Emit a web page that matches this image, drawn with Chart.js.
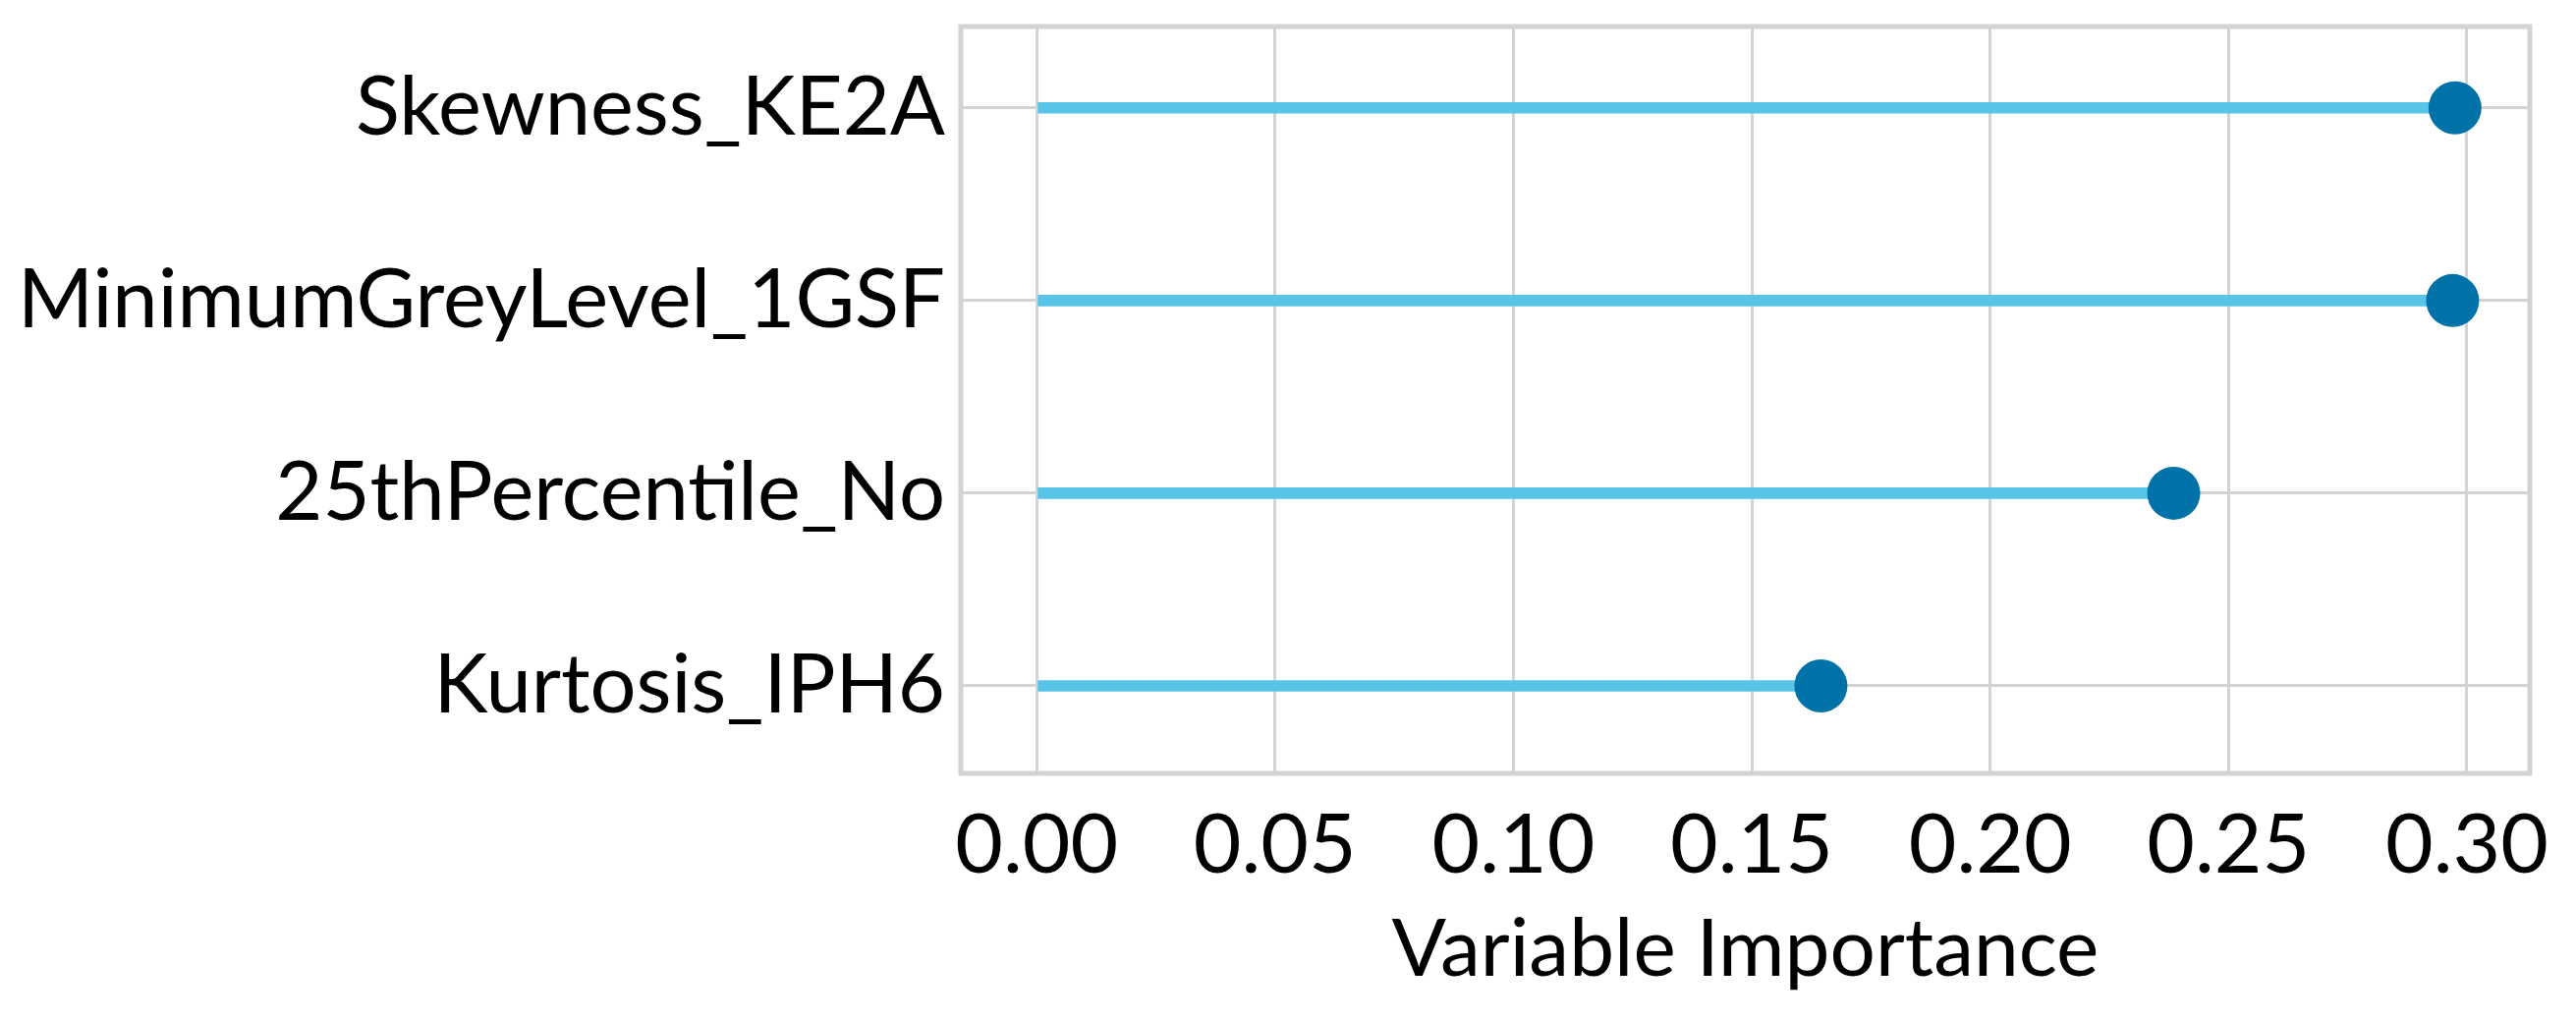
<!DOCTYPE html>
<html>
<head>
<meta charset="utf-8">
<script src="https://cdn.jsdelivr.net/npm/chart.js@4.4.1/dist/chart.umd.min.js"></script>
<style>
  html, body { margin: 0; padding: 0; background: #fff; }
  #wrap { width: 2622px; height: 1040px; }
</style>
</head>
<body>
<div id="wrap"><canvas id="importanceChart"></canvas></div>
<script>
// Variables, top to bottom
const featureNames = [
  "Skewness_KE2A",
  "MinimumGreyLevel_1GSF",
  "25thPercentile_No",
  "Kurtosis_IPH6",
];
const importance = [0.2975, 0.297, 0.2385, 0.1645];
const xTickValues = [0, 0.05, 0.1, 0.15, 0.2, 0.25, 0.3];

const frameColor = "#d3d3d3";

// frame round the plot area
const framePlugin = {
  id: "frame",
  afterDatasetsDraw(chart) {
    const { ctx, chartArea } = chart;
    ctx.save();
    ctx.strokeStyle = frameColor;
    ctx.lineWidth = 5;
    ctx.strokeRect(
      chartArea.left,
      chartArea.top,
      chartArea.right - chartArea.left,
      chartArea.bottom - chartArea.top
    );
    ctx.restore();
  },
};

document.addEventListener("DOMContentLoaded", function () {
  const ctx = document.getElementById("importanceChart").getContext("2d");

  const rows = featureNames.map((name, i) => i);

  new Chart(ctx, {
    type: "bar",
    data: {
      datasets: [
        {
          type: "bar",
          indexAxis: "y",
          order: 2,
          data: importance.map((v, i) => ({ x: v, y: i })),
          backgroundColor: "#58c5e8",
          barThickness: 11,
          borderWidth: 0,
        },
        {
          type: "scatter",
          order: 1,
          data: importance.map((v, i) => ({ x: v, y: i })),
          backgroundColor: "#0072a7",
          borderWidth: 0,
          pointRadius: 27,
        },
      ],
    },
    options: {
      responsive: true,
      maintainAspectRatio: false,
      animation: false,
      layout: { padding: { top: 25, right: 47, left: 0, bottom: 0 } },
      plugins: {
        legend: { display: false },
        tooltip: { enabled: false },
      },
      scales: {
        x: {
          type: "linear",
          offset: false,
          min: -0.0159,
          max: 0.3132,
          afterBuildTicks: (scale) => {
            scale.ticks = xTickValues.map((v) => ({ value: v }));
          },
          afterFit: (scale) => {
            scale.height = 253;
            scale.paddingLeft = 0;
            scale.paddingRight = 0;
          },
          grid: { offset: false, color: frameColor, lineWidth: 3, drawTicks: false },
          border: { display: false },
          ticks: {
            padding: 24,
            color: "#000",
            font: { family: "Lato", size: 84 },
            callback: (v) => Number(v).toFixed(2),
          },
          title: {
            display: true,
            text: "Variable Importance",
            color: "#000",
            font: { family: "Lato", size: 82, lineHeight: 1 },
            padding: { top: 0, bottom: 32 },
          },
        },
        y: {
          type: "linear",
          offset: false,
          reverse: true,
          min: -0.422,
          max: 3.454,
          afterBuildTicks: (scale) => {
            scale.ticks = rows.map((i) => ({ value: i }));
          },
          afterFit: (scale) => {
            scale.width = 978;
            scale.paddingTop = 0;
            scale.paddingBottom = 0;
          },
          grid: { offset: false, color: frameColor, lineWidth: 3, drawTicks: false },
          border: { display: false },
          ticks: {
            padding: 16,
            color: "#000",
            font: { family: "Lato", size: 83 },
            callback: (v) => featureNames[v],
          },
        },
      },
    },
    plugins: [framePlugin],
  });
});
</script>
</body>
</html>
